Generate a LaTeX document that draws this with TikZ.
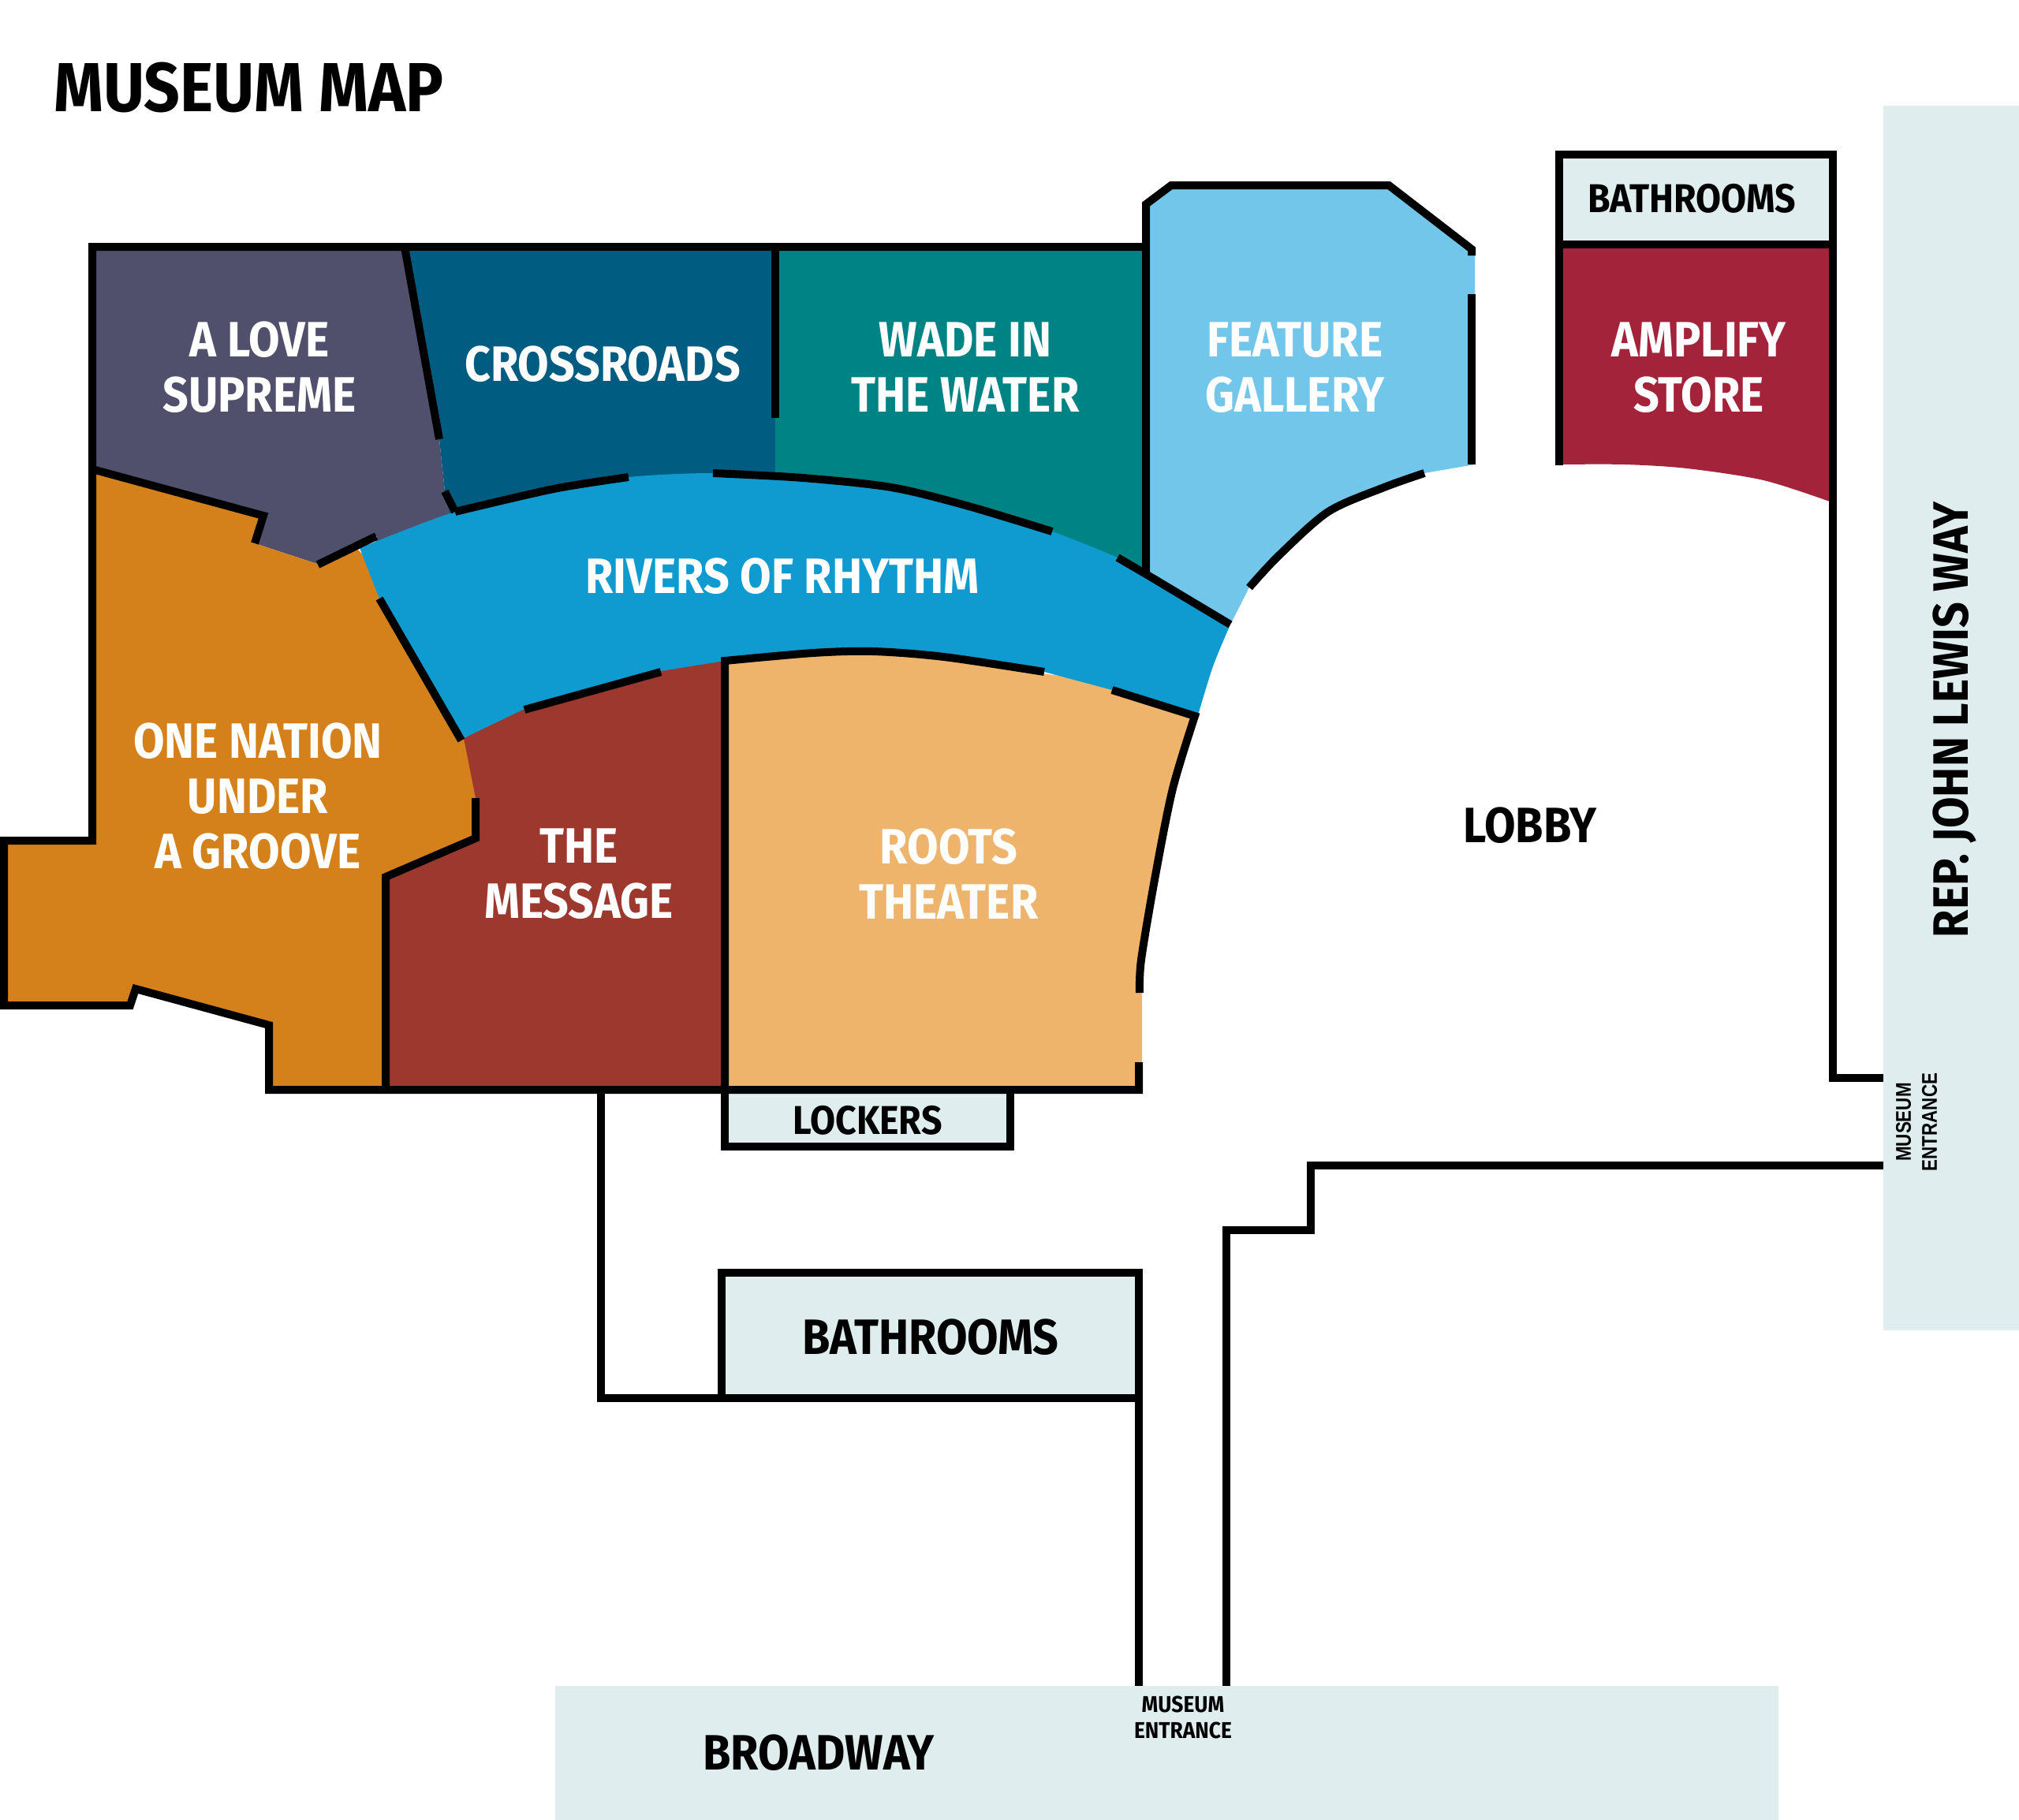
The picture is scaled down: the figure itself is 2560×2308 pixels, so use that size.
\documentclass[tikz,border=0pt]{standalone}
\usepackage{fontspec}
\newfontfamily\mapfont[FakeStretch=0.91]{Fira Sans}
\newfontfamily\smallfont[FakeStretch=0.83]{Liberation Sans}
\definecolor{lovecol}{HTML}{50506C}
\definecolor{crosscol}{HTML}{005C80}
\definecolor{wadecol}{HTML}{008384}
\definecolor{featcol}{HTML}{72C6EA}
\definecolor{ampcol}{HTML}{A3233A}
\definecolor{rivercol}{HTML}{0F9BD0}
\definecolor{nationcol}{HTML}{D5811B}
\definecolor{msgcol}{HTML}{9C382E}
\definecolor{rootscol}{HTML}{EEB46B}
\definecolor{palecol}{HTML}{DFEDEE}
\tikzset{
  wall/.style={line width=10pt,line join=miter},
  room/.style={text=white,font=\mapfont\bfseries\fontsize{63}{70}\selectfont,align=center,inner sep=0pt},
  sign/.style={text=black,font=\mapfont\bfseries\fontsize{63}{70}\selectfont,align=center,inner sep=0pt},
  signs/.style={text=black,font=\mapfont\bfseries\fontsize{51}{60}\selectfont,align=center,inner sep=0pt},
}
\begin{document}
\begin{tikzpicture}[x=1pt,y=-1pt]
\useasboundingbox (0,0) rectangle (2560,2308);
\fill[palecol] (2388,134) rectangle (2560,1687);
\fill[palecol] (704,2138) rectangle (2255,2308);
\fill[palecol] (1977,196) rectangle (2324,310);
\fill[palecol] (919,1382) rectangle (1281,1454);
\fill[palecol] (915,1614) rectangle (1444,1773);
\fill[lovecol] (117,313) -- (513,313) -- (557,557) -- (564,623) -- (577,649) -- (560,700) -- (470,710) -- (478,680) -- (402,715) -- (323,689) -- (334,654) -- (117,595) -- cycle;
\fill[crosscol] (513,313) -- (983,313) -- (983,640) -- (577,680) -- (564,623) -- (557,557) -- cycle;
\fill[wadecol] (983,313) -- (1453,313) -- (1453,760) -- (983,640) -- cycle;
\fill[featcol] (1453,313) -- (1453,259) -- (1485,235) -- (1761,235) -- (1870,320) -- (1870,589) -- (1806,600) -- plot[smooth] coordinates {(1806,600) (1755,618) (1684,649) (1621,705) (1584,745)} -- (1560,792) -- (1453,728) -- cycle;
\fill[ampcol] (1977,310) -- (2324,310) -- (2324,636) -- plot[smooth] coordinates {(2320,636) (2236,609) (2139,594) (2060,589) (1977,589)} -- cycle;
\fill[nationcol] (117,595) -- (334,654) -- (323,689) -- (402,715) -- (452,695) -- (475,720) -- (500,770) -- (590,936) -- (605,1012) -- (603,1063) -- (489,1112) -- (489,1382) -- (341,1382) -- (341,1300) -- (172,1254) -- (165,1275) -- (5,1275) -- (5,1066) -- (117,1066) -- cycle;
\fill[msgcol] (489,1382) -- (489,1112) -- (603,1063) -- (603,1012) -- (588,936) -- (838,800) -- (919,800) -- (919,1382) -- cycle;
\fill[rootscol] (919,800) -- (1515,880) -- (1515,908) -- plot[smooth] coordinates {(1515,908) (1487,1000) (1465,1110) (1447,1217) (1445,1259)} -- (1448,1259) -- (1448,1382) -- (919,1382) -- cycle;
\fill[rivercol] plot[smooth] coordinates {(456,695) (577,649) (702,620) (797,605) (904,600) (1018,606) (1130,618) (1225,641) (1334,674) (1417,707)} -- (1453,728) -- plot[smooth] coordinates {(1560,792) (1538,845) (1519,907)} -- (1515,908) -- (1410,875) -- plot[smooth] coordinates {(1324,852) (1197,833) (1107,826) (1031,828) (919,838)} -- (838,851) -- (665,899) -- (588,936) -- (481,759) -- cycle;
% walls
\draw[wall] (403,716) -- (477,680);
\draw[wall] (323,689) -- (334,654) -- (117,595);
\draw[wall] (513,313) -- (557,557);
\draw[wall] (564,623) -- (577,649);
\draw[wall] plot[smooth] coordinates {(577,649) (702,620) (797,605)};
\draw[wall] plot[smooth] coordinates {(904,600) (1018,606) (1130,618) (1225,641) (1334,674)};
\draw[wall] (1417,707) -- (1453,728) -- (1560,792);
\draw[wall] (983,313) -- (983,530);
\draw[wall] (481,759) -- (585,939);
\draw[wall] (665,900) -- (838,852);
\draw[wall] plot[smooth] coordinates {(1324,852) (1197,833) (1107,826) (1031,828) (919,838)} -- (919,1382);
\draw[wall] (1410,875) -- plot[smooth] coordinates {(1515,908) (1487,1000) (1465,1110) (1447,1217) (1445,1259)};
\draw[wall] (603,1012) -- (603,1063) -- (489,1112) -- (489,1382);
\draw[wall] (1453,728) -- (1453,259) -- (1485,235) -- (1761,235) -- (1866,316) -- (1866,324);
\draw[wall] (1866,373) -- (1866,589);
\draw[wall] plot[smooth] coordinates {(1806,600) (1755,618) (1684,649) (1621,705) (1584,745)};
\draw[wall] (1453,313) -- (117,313) -- (117,1066) -- (5,1066) -- (5,1275) -- (165,1275) -- (172,1254) -- (341,1300) -- (341,1382) -- (1444,1382) -- (1444,1347);
\draw[wall] (919,1382) -- (919,1454) -- (1281,1454) -- (1281,1382);
\draw[wall] (762,1382) -- (762,1773) -- (1444,1773);
\draw[wall] (915,1773) -- (915,1614) -- (1444,1614) -- (1444,2138);
\draw[wall] (1555,2138) -- (1555,1560) -- (1662,1560) -- (1662,1478) -- (2388,1478);
\draw[wall] (1977,590) -- (1977,196) -- (2324,196) -- (2324,1367) -- (2388,1367);
\draw[wall] (1977,310) -- (2324,310);
% labels
\node[sign,font=\mapfont\bfseries\fontsize{88}{90}\selectfont,anchor=west] (title) at (68,111) {MUSEUM MAP};
\node[room] (love) at (329,466) {A LOVE\\SUPREME};
\node[room] (cross) at (764,462) {CROSSROADS};
\node[room] (wade) at (1224,466) {WADE IN\\THE WATER};
\node[room] (feature) at (1642,466) {FEATURE\\GALLERY};
\node[room] (amplify) at (2154,466) {AMPLIFY\\STORE};
\node[room] (rivers) at (992,731) {RIVERS OF RHYTHM};
\node[room] (nation) at (327,1010) {ONE NATION\\UNDER\\A GROOVE};
\node[room] (message) at (734,1108) {THE\\MESSAGE};
\node[room] (roots) at (1203,1108) {ROOTS\\THEATER};
\node[sign] (lobby) at (1940,1047) {LOBBY};
\node[sign] (road) at (1038,2223) {BROADWAY};
\node[sign] (lewis) at (2478,913) [rotate=90] {REP. JOHN LEWIS WAY};
\node[sign] (bathlow) at (1180,1696) {BATHROOMS};
\node[signs] (bathtop) at (2145,252) {BATHROOMS};
\node[signs] (lockers) at (1100,1421) {LOCKERS};
\node[signs,font=\mapfont\bfseries\fontsize{29}{33}\selectfont] (door) at (1500,2178) {MUSEUM\\ENTRANCE};
\node[signs,font=\smallfont\bfseries\fontsize{27}{33}\selectfont,rotate=90] (doortwo) at (2430,1423) {MUSEUM\\ENTRANCE};
\end{tikzpicture}
\end{document}
